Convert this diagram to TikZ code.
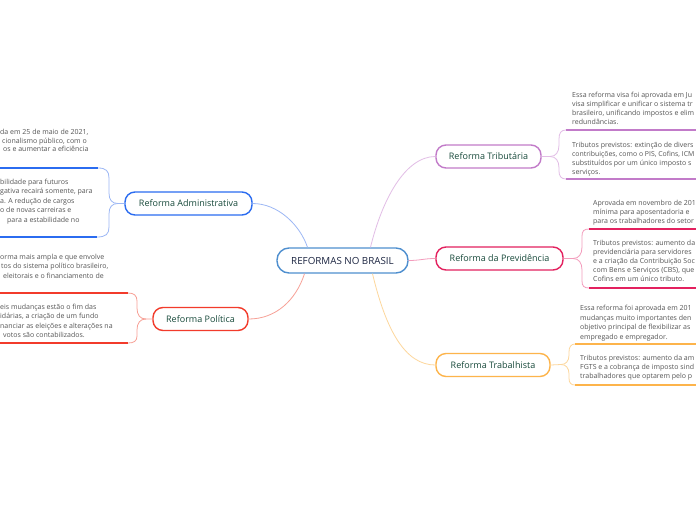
\documentclass[tikz,border=0pt]{standalone}
\usepackage{fontspec}
\setmainfont{Open Sans}
\usetikzlibrary{calc}
\definecolor{cenc}{HTML}{4F8FCF}
\definecolor{centxt}{HTML}{1C2541}
\definecolor{admc}{HTML}{2B6CF0}
\definecolor{adml}{HTML}{9DB8F5}
\definecolor{polc}{HTML}{F23B2B}
\definecolor{poll}{HTML}{F7A197}
\definecolor{tribc}{HTML}{C27BC9}
\definecolor{tribl}{HTML}{E2BDE6}
\definecolor{prevc}{HTML}{E3215F}
\definecolor{prevl}{HTML}{F39CBC}
\definecolor{trabc}{HTML}{FDB44B}
\definecolor{trabl}{HTML}{FDD79C}
\definecolor{toptxt}{HTML}{17493A}
\definecolor{subtxt}{HTML}{555555}
\tikzset{
  topic/.style={draw, line width=1.4pt, rounded corners=10pt, fill=white,
    minimum height=23pt, inner sep=0pt, text=toptxt,
    font=\fontsize{9}{10}\selectfont},
  subline/.style={anchor=base west, inner sep=0pt, text=subtxt,
    font=\fontsize{7}{8}\selectfont},
  conn/.style={line width=0.8pt},
  brace/.style={line width=0.8pt},
  uline/.style={line width=1.8pt},
}
\begin{document}
\begin{tikzpicture}[x=1pt,y=-1pt]
\useasboundingbox (0,0) rectangle (696,520);
\clip (0,0) rectangle (696,520);
\fill[white] (0,0) rectangle (696,520);

\node[topic, draw=cenc, text=centxt, minimum width=131pt, minimum height=25pt, rounded corners=12pt, font=\fontsize{9.8}{11}\selectfont] (c) at (342.5,260.5) {REFORMAS NO BRASIL};
\node[topic, draw=admc, minimum width=127pt] (a) at (188.5,203.5) {Reforma Administrativa};
\node[topic, draw=polc, minimum width=95pt] (p) at (200.5,319) {Reforma Política};
\node[topic, draw=tribc, minimum width=105pt] (t) at (488.5,156.5) {Reforma Tributária};
\node[topic, draw=prevc, minimum width=127pt] (v) at (499.5,258.5) {Reforma da Previdência};
\node[topic, draw=trabc, minimum width=114pt] (w) at (493,365) {Reforma Trabalhista};

\draw[conn, adml] ($(c.north)+(-35,0)$) .. controls (300,225) and (278,203.5) .. (a.east);
\draw[conn, poll] ($(c.south)+(-38,0)$) .. controls (296,300) and (276,319) .. (p.east);
\draw[conn, tribl] ($(c.north)+(28,0)$) .. controls (382,200) and (405,156.5) .. (t.west);
\draw[conn, prevl] (c.east) .. controls (420,260.5) and (424,258.5) .. (v.west);
\draw[conn, trabl] ($(c.south)+(30,0)$) .. controls (386,330) and (405,365) .. (w.west);

% ---------- Administrativa ----------
\coordinate (a1) at (98,168);
\coordinate (a2) at (97,237);
\draw[brace, adml] (a.west) -- (118,203.5) .. controls (112,203.5) and (109,200) .. (109,193) -- (109,178) .. controls (109,171) and (106,168) .. (a1);
\draw[brace, adml] (118,203.5) .. controls (112,203.5) and (109,207) .. (109,214) -- (109,227) .. controls (109,234) and (106,237) .. (a2);
\draw[uline, admc] (a1) -- (-5,168);
\draw[uline, admc] (a2) -- (-5,237);
\node[subline] (at1) at (0,134) {da em 25 de maio de 2021,};
\node[subline] (at2) at (2,143) {cionalismo público, com o};
\node[subline] (at3) at (3,151.5) {os e aumentar a eficiência};
\node[subline] (at4) at (0,184) {bilidade para futuros};
\node[subline] (at5) at (0,193.5) {gativa recairá somente, para};
\node[subline] (at6) at (0,203) {a. A redução de cargos};
\node[subline] (at7) at (0,212.5) {o de novas carreiras e};
\node[subline] (at8) at (7,222) {para a estabilidade no};

% ---------- Política ----------
\coordinate (p1) at (128,293);
\coordinate (p2) at (128,343);
\draw[brace, poll] (p.west) -- (146,319) .. controls (140,319) and (137,315) .. (137,308) -- (137,301) .. controls (137,295.5) and (134,293) .. (p1);
\draw[brace, poll] (146,319) .. controls (140,319) and (137,323) .. (137,330) -- (137,336) .. controls (137,341) and (134,343) .. (p2);
\draw[uline, polc] (p1) -- (-5,293);
\draw[uline, polc] (p2) -- (-5,343);
\node[subline] (pt1) at (0,259) {orma mais ampla e que envolve};
\node[subline] (pt2) at (1,268.5) {tos do sistema político brasileiro,};
\node[subline] (pt3) at (3,278) {eleitorais e o financiamento de};
\node[subline] (pt4) at (0,309) {eis mudanças estão o fim das};
\node[subline] (pt5) at (0,318.5) {idárias, a criação de um fundo};
\node[subline] (pt6) at (0,328) {nanciar as eleições e alterações na};
\node[subline] (pt7) at (3,337.5) {votos são contabilizados.};

% ---------- Tributária ----------
\coordinate (t1) at (566,130);
\coordinate (t2) at (566,179);
\draw[brace, tribl] (t.east) -- (550,156.5) .. controls (556,156.5) and (559,152) .. (559,145) -- (559,139) .. controls (559,133) and (561,130) .. (t1);
\draw[brace, tribl] (550,156.5) .. controls (556,156.5) and (559,161) .. (559,168) -- (559,171) .. controls (559,176) and (561,179) .. (t2);
\draw[uline, tribc] (t1) -- (702,130);
\draw[uline, tribc] (t2) -- (702,179);
\node[subline] (tt1) at (572,97) {Essa reforma visa foi aprovada em Ju};
\node[subline] (tt2) at (572,106) {visa simplificar e unificar o sistema tr};
\node[subline] (tt3) at (572,115) {brasileiro, unificando impostos e elim};
\node[subline] (tt4) at (572,124) {redundâncias.};
\node[subline] (tt5) at (572,147) {Tributos previstos: extinção de divers};
\node[subline, font=\fontsize{6.9}{8}\selectfont] (tt6) at (572,156) {contribuições, como o PIS, Cofins, ICM};
\node[subline] (tt7) at (572,165) {substituídos por um único imposto s};
\node[subline] (tt8) at (572,174) {serviços.};

% ---------- Previdência ----------
\coordinate (v1) at (589,229);
\coordinate (v2) at (589,288);
\draw[brace, prevl] (v.east) -- (573,258.5) .. controls (579,258.5) and (582,254) .. (582,247) -- (582,236) .. controls (582,231) and (584,229) .. (v1);
\draw[brace, prevl] (573,258.5) .. controls (579,258.5) and (582,263) .. (582,270) -- (582,281) .. controls (582,286) and (584,288) .. (v2);
\draw[uline, prevc] (v1) -- (702,229);
\draw[uline, prevc] (v2) -- (702,288);
\node[subline] (vt1) at (593,205) {Aprovada em novembro de 201};
\node[subline] (vt2) at (593,214) {mínima para aposentadoria e};
\node[subline] (vt3) at (593,223) {para os trabalhadores do setor};
\node[subline] (vt4) at (593,245) {Tributos previstos: aumento da};
\node[subline] (vt5) at (593,254) {previdenciária para servidores};
\node[subline] (vt6) at (593,263) {e a criação da Contribuição Soc};
\node[subline] (vt7) at (593,272) {com Bens e Serviços (CBS), que};
\node[subline] (vt8) at (593,281) {Cofins em um único tributo.};

% ---------- Trabalhista ----------
\coordinate (w1) at (575,344);
\coordinate (w2) at (575,385);
\draw[brace, trabl] (w.east) -- (561,364.5) .. controls (566,364.5) and (569,361) .. (569,355) -- (569,352) .. controls (569,347) and (571,344) .. (w1);
\draw[brace, trabl] (561,364.5) .. controls (566,364.5) and (569,368) .. (569,374) -- (569,378) .. controls (569,383) and (571,385) .. (w2);
\draw[uline, trabc] (w1) -- (702,344);
\draw[uline, trabc] (w2) -- (702,385);
\node[subline] (wt1) at (580,310) {Essa reforma foi aprovada em 201};
\node[subline] (wt2) at (580,320) {mudanças muito importantes den};
\node[subline] (wt3) at (580,329.5) {objetivo principal de flexibilizar as};
\node[subline] (wt4) at (580,339) {empregado e empregador.};
\node[subline] (wt5) at (580,360) {Tributos previstos: aumento da am};
\node[subline] (wt6) at (580,369) {FGTS e a cobrança de imposto sind};
\node[subline] (wt7) at (580,378.5) {trabalhadores que optarem pelo p};
\end{tikzpicture}
\end{document}
